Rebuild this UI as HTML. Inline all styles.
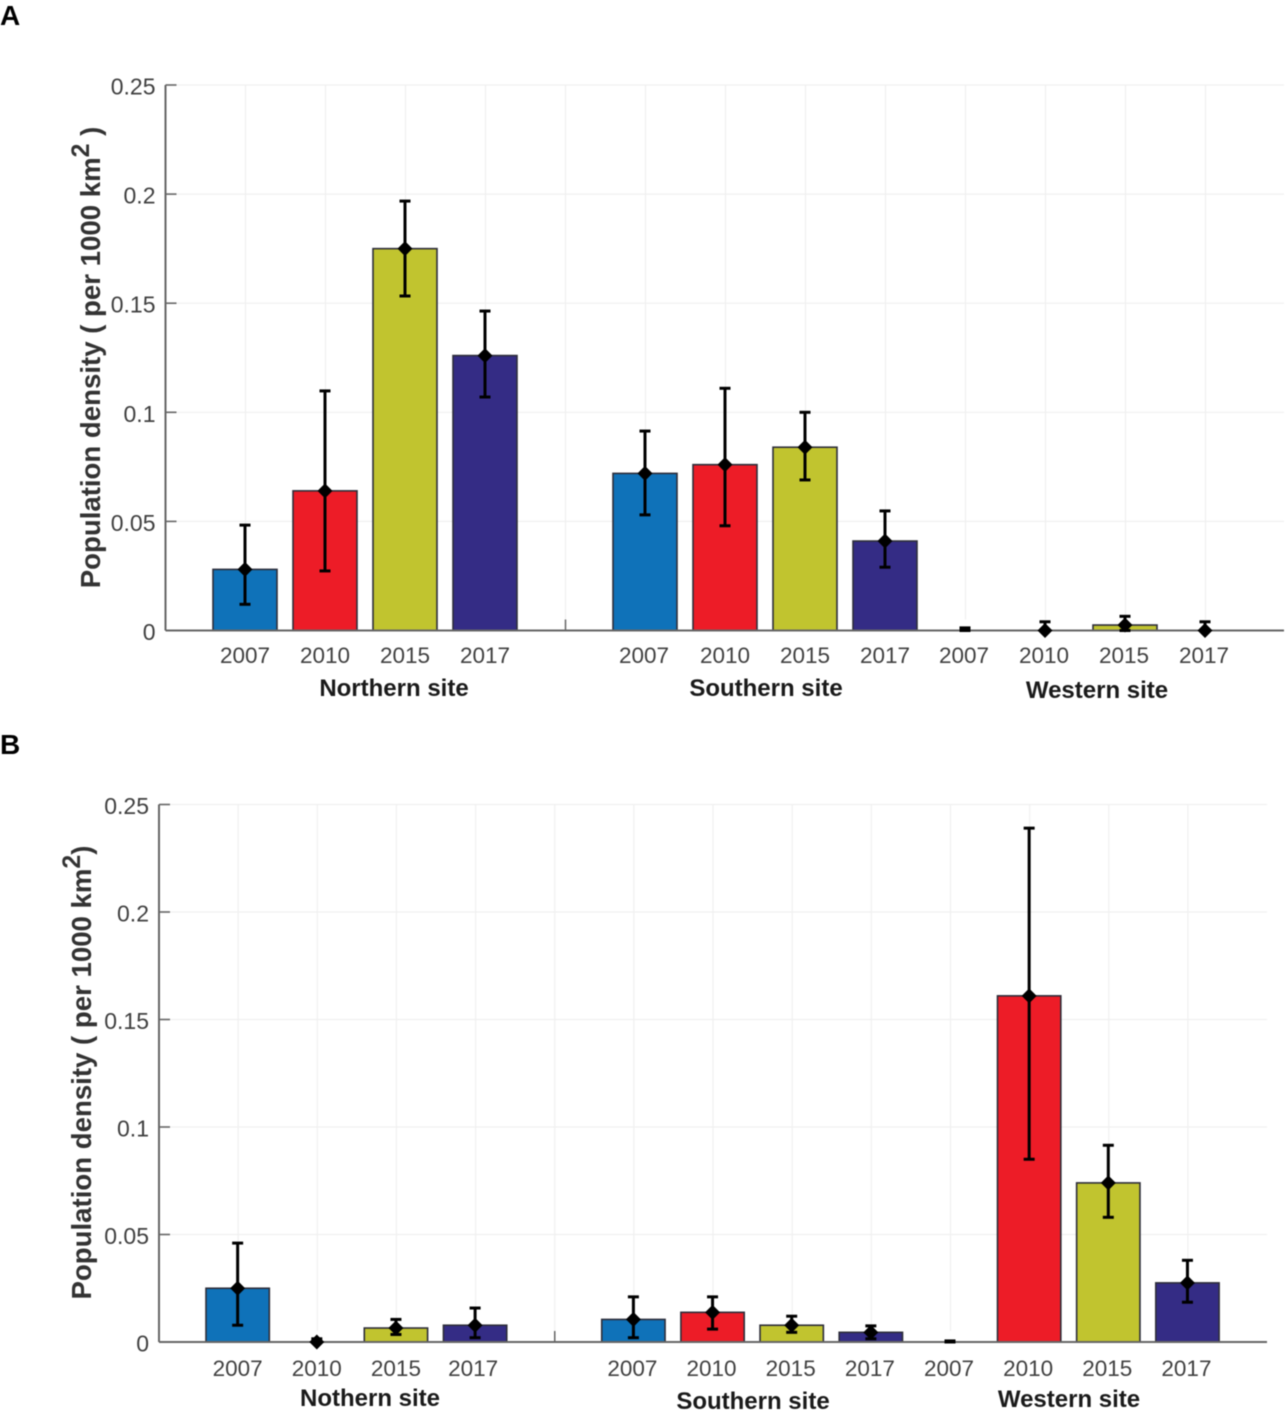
<!DOCTYPE html>
<html lang="en">
<head>
<meta charset="utf-8">
<title>Population density by site and year</title>
<style>
html,body{margin:0;padding:0;background:#fff;}
svg{display:block;font-family:"Liberation Sans",sans-serif;}
#plot-root{filter:blur(0.55px);}
</style>
</head>
<body>
<svg id="chart" width="1285" height="1411" viewBox="0 0 1285 1411" xmlns="http://www.w3.org/2000/svg">
  <rect x="0" y="0" width="1285" height="1411" fill="#fff"/>
  <g id="plot-root"></g>
</svg>
<script>
const years = ['2007', '2010', '2015', '2017'];
const yTicks = [0, 0.05, 0.1, 0.15, 0.2, 0.25];
const yTickLabels = ['0', '0.05', '0.1', '0.15', '0.2', '0.25'];

const sitesA = ['Northern site', 'Southern site', 'Western site'];
const meansA = [0.028, 0.064, 0.175, 0.126, 0.072, 0.076, 0.084, 0.041, null, 0, 0.0025, 0];
const upperA = [0.0483, 0.1098, 0.1968, 0.1464, 0.0914, 0.111, 0.1, 0.0548, 0.0012, 0.004, 0.0065, 0.004];
const lowerA = [0.012, 0.0273, 0.1533, 0.107, 0.053, 0.048, 0.069, 0.029, 0, 0, 0, 0];

const sitesB = ['Nothern site', 'Southern site', 'Western site'];
const meansB = [0.025, 0, 0.0065, 0.0078, 0.0105, 0.0138, 0.0078, 0.0045, null, 0.161, 0.074, 0.0275];
const upperB = [0.046, 0.0015, 0.0105, 0.0158, 0.021, 0.021, 0.012, 0.0075, 0.0005, 0.239, 0.0915, 0.038];
const lowerB = [0.0078, 0, 0.0035, 0.002, 0.002, 0.006, 0.0045, 0.0015, 0, 0.085, 0.058, 0.0185];

const colors = ['#0f72b9', '#ed1c27', '#c1c42f', '#342c85'];
const NS = 'http://www.w3.org/2000/svg';
const root = document.getElementById('plot-root');

function make(tag, attrs, parent) {
  const el = document.createElementNS(NS, tag);
  Object.keys(attrs).forEach(function (k) { el.setAttribute(k, attrs[k]); });
  parent.appendChild(el);
  return el;
}

function drawPanel(p) {
  const g = make('g', {}, root);
  
  

  const yScale = function (v) { return p.y0 - (v / 0.25) * (p.y0 - p.yTop); };
  const slot = function (i) { return i < 4 ? i + 1 : i + 2; };
  const xScale = function (i) { return p.left + p.step * slot(i); };
  const xSlot = function (s) { return p.left + p.step * s; };

  const panelLabel = make('text', { x: 0, y: p.letterY, 'font-size': 28, 'font-weight': 'bold', fill: '#000' }, g);
  panelLabel.textContent = p.letter;
  
  

  // grid
  for (let s = 1; s <= 13; s++) {
    const gl = make('line', { x1: xSlot(s), x2: xSlot(s), y1: p.yTop, y2: p.y0 - 11, stroke: '#f0f0f0', 'stroke-width': 1.2 }, g);
    
    
  }
  yTicks.forEach(function (t, i) {
    if (t > 0) {
      const gl = make('line', { x1: p.left + 10, x2: p.right, y1: yScale(t), y2: yScale(t), stroke: '#f0f0f0', 'stroke-width': 1.2 }, g);
      
      
    }
    const tk = make('line', { x1: p.left, x2: p.left + 11, y1: yScale(t), y2: yScale(t), stroke: '#666', 'stroke-width': 1.6 }, g);
    
    
    const lb = make('text', { x: p.left - 10, y: yScale(t) + p.tickDy, 'text-anchor': 'end', 'font-size': 23, fill: '#404040' }, g);
    lb.textContent = yTickLabels[i];
    
    
  });

  // bars
  p.means.forEach(function (m, i) {
    if (m === null || m <= 0) return;
    const bw = p.step * 0.8;
    const bar = make('rect', { x: xScale(i) - bw / 2 - 0.5, y: yScale(m), width: bw, height: p.y0 - yScale(m), fill: colors[i % 4], stroke: '#2e2e3a', 'stroke-width': 1.6 }, g);
    
    
  });

  // axes
  const yAxis = make('line', { x1: p.left, x2: p.left, y1: p.yTop, y2: p.y0, stroke: '#666', 'stroke-width': 2 }, g);
  
  
  const xAxis = make('line', { x1: p.left, x2: p.right, y1: p.y0, y2: p.y0, stroke: '#666', 'stroke-width': 2 }, g);
  
  
  const midTick = make('line', { x1: xSlot(5), x2: xSlot(5), y1: p.y0 - 11, y2: p.y0, stroke: '#666', 'stroke-width': 1.5 }, g);
  
  

  // error bars and markers
  p.means.forEach(function (m, i) {
    const x = xScale(i) - 0.5;
    const hi = yScale(p.upper[i]);
    const lo = yScale(p.lower[i]);
    const eg = make('g', { stroke: '#000', 'stroke-width': 3 }, g);
    
    
    make('line', { x1: x, x2: x, y1: hi, y2: lo }, eg);
    make('line', { x1: x - 5.5, x2: x + 5.5, y1: hi, y2: hi }, eg);
    make('line', { x1: x - 5.5, x2: x + 5.5, y1: lo, y2: lo }, eg);
    if (m !== null) {
      const my = yScale(m);
      const d = 7.5;
      const mk = make('polygon', { points: x + ',' + (my - d) + ' ' + (x + d) + ',' + my + ' ' + x + ',' + (my + d) + ' ' + (x - d) + ',' + my, fill: '#000' }, g);
      
      
    }
    const yl = make('text', { x: xScale(i) - p.labelShift(i), y: p.yearY, 'text-anchor': 'middle', 'font-size': 22.5, fill: '#404040' }, g);
    yl.textContent = years[i % 4];
    
    
  });

  // site labels
  p.sites.forEach(function (s, i) {
    const sl = make('text', { x: p.siteX[i], y: p.siteY[i], 'text-anchor': 'middle', 'font-size': 24, 'font-weight': 'bold', fill: '#1a1a1a' }, g);
    sl.textContent = s;
    
    
  });

  // y title
  const title = make('text', { transform: 'translate(' + p.titleX + ',' + p.titleY + ') rotate(-90)', 'text-anchor': 'middle', 'font-size': p.titleSize, 'font-weight': 'bold', fill: '#333' }, g);
  
  
  const t1 = make('tspan', {}, title);
  t1.textContent = 'Population density ( per 1000 km';
  const t2 = make('tspan', { dy: -11, 'font-size': p.titleSize * 0.9 }, title);
  t2.textContent = '2';
  const t3 = make('tspan', { dy: 11 }, title);
  t3.textContent = p.titleEnd;
}

drawPanel({
  name: 'panel-a', letter: 'A', letterY: 25,
  means: meansA, upper: upperA, lower: lowerA, sites: sitesA,
  left: 165.5, right: 1284, step: 80, y0: 630.5, yTop: 85, tickDy: 9.5,
  yearY: 663, siteX: [394, 766, 1097], siteY: [696, 696, 698],
  labelShift: function (i) { return i >= 8 ? 1.5 : (i === 4 ? 1.5 : 0.5); },
  titleX: 100, titleY: 357.5, titleSize: 27.6, titleEnd: ' )'
});

drawPanel({
  name: 'panel-b', letter: 'B', letterY: 754,
  means: meansB, upper: upperB, lower: lowerB, sites: sitesB,
  left: 159, right: 1267, step: 79.15, y0: 1342, yTop: 804.5, tickDy: 9.5,
  yearY: 1376, siteX: [370, 753, 1069], siteY: [1406, 1409, 1407],
  labelShift: function (i) { return i === 3 ? 2.5 : (i >= 4 ? 1.5 : 0.5); },
  titleX: 91, titleY: 1072.5, titleSize: 27.6, titleEnd: ')'
});
</script>
</body>
</html>
